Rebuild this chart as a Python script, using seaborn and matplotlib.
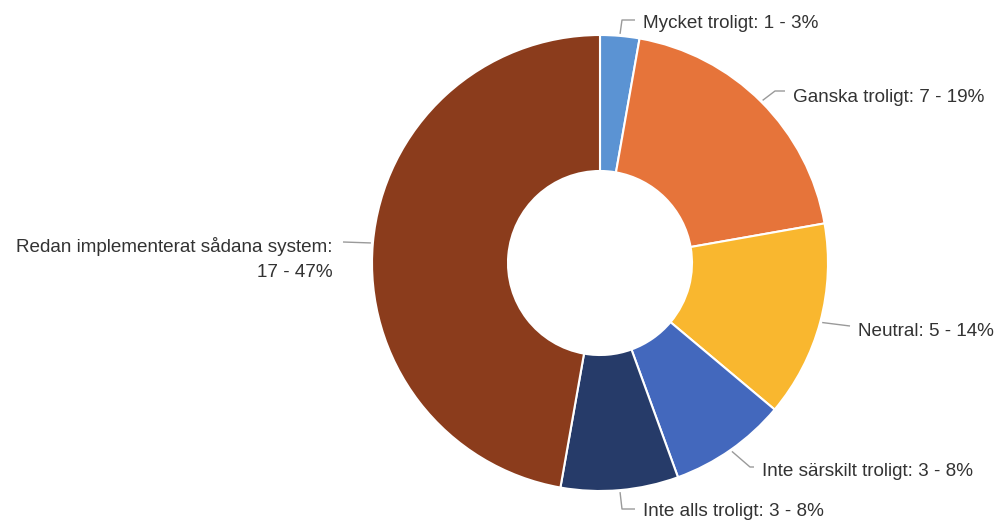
import numpy as np
import matplotlib
matplotlib.use("Agg")
import matplotlib.pyplot as plt
import seaborn as sns

sns.set_theme(style="white")
plt.rcParams['font.family'] = ['Liberation Sans', 'DejaVu Sans']

categories = [
    "Mycket troligt",
    "Ganska troligt",
    "Neutral",
    "Inte särskilt troligt",
    "Inte alls troligt",
    "Redan implementerat sådana system",
]
counts = [1, 7, 5, 3, 3, 17]
colors = ["#5B93D3", "#E6743A", "#F9B72F", "#4368BD", "#263B69", "#8B3C1C"]

W, H = 998, 521
fig = plt.figure(figsize=(W / 100, H / 100), dpi=100)
ax = fig.add_axes([0, 0, 1, 1])

cx, cy = 600, H - 263
R = 228
hole = 92

wedges, _ = ax.pie(
    counts,
    colors=colors,
    startangle=90,
    counterclock=False,
    radius=R,
    center=(cx, cy),
    wedgeprops=dict(width=R - hole, edgecolor="white", linewidth=1.5),
    frame=True,
)
ax.set_xlim(0, W)
ax.set_ylim(0, H)
ax.set_aspect("equal")
ax.axis("off")

total = sum(counts)
labels = []
for c, n in zip(categories, counts):
    pct = round(100 * n / total)
    if len(c) > 25:
        labels.append(f"{c}:\n{n} - {pct}%")
    else:
        labels.append(f"{c}: {n} - {pct}%")

# leader-line elbow and text anchor for each label (pixel layout, y from top)
elbows = [(622, 20), (775, 91), (850, 326), (750, 467), (622, 509), (343, 242)]
text_pos = [(643, 24), (793, 98), (858, 332), (762, 472), (643, 511), (333, 259)]

line_col = "#9a9a9a"
for w, lab, (ex, ey), (tx, ty) in zip(wedges, labels, elbows, text_pos):
    mid = np.deg2rad((w.theta1 + w.theta2) / 2)
    sx = cx + (R + 2) * np.cos(mid)
    sy = cy + (R + 2) * np.sin(mid)
    ey_d = H - ey
    right = tx > cx
    hx = tx - 8 if right else tx + 10
    ax.plot([sx, ex, hx], [sy, ey_d, ey_d], color=line_col, lw=1, solid_capstyle="butt")
    ax.text(tx, H - ty, lab, ha="left" if right else "right", va="center",
            fontsize=13.6, color="#333333", linespacing=1.54,
            multialignment="right")

fig.savefig("out.png", dpi=100, facecolor="white")
